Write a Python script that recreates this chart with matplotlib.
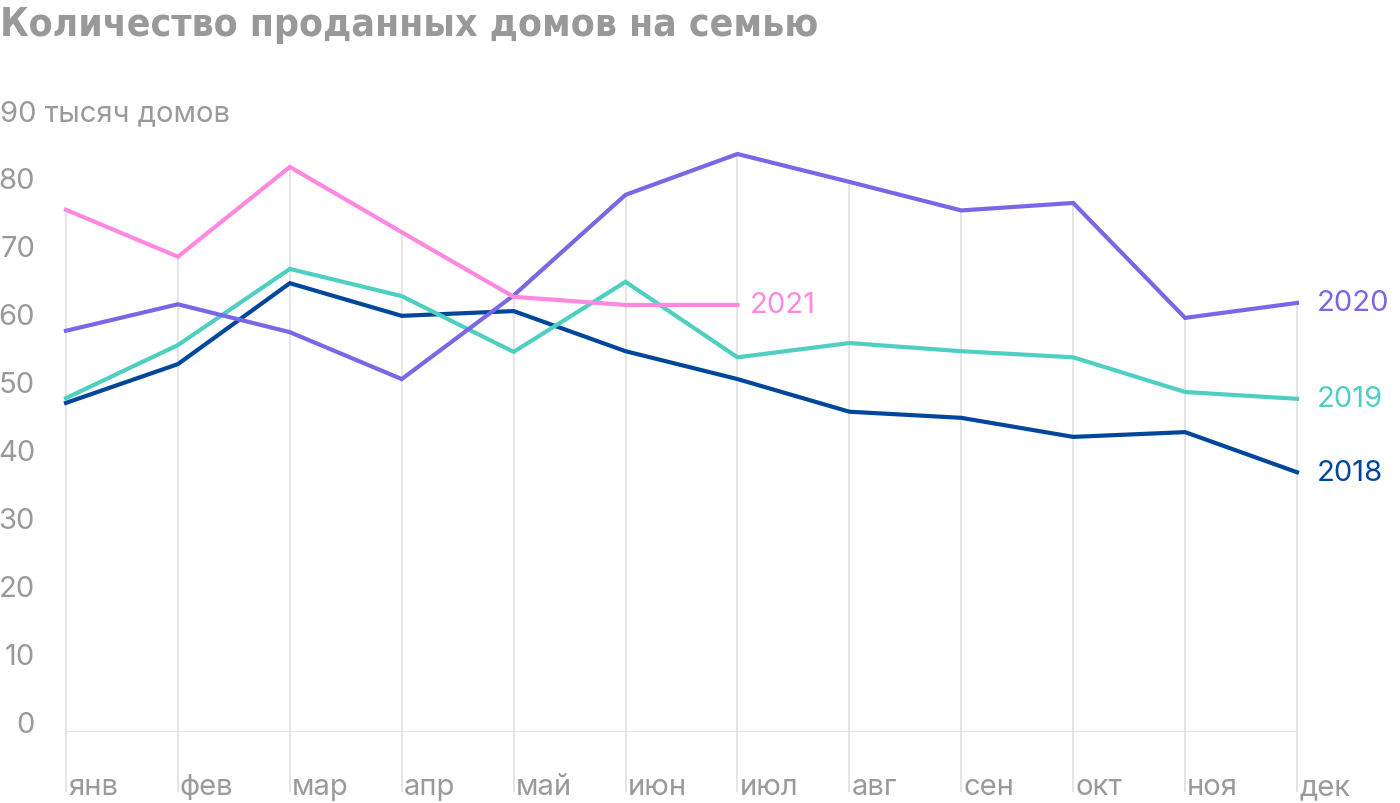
# line chart: houses sold per family by month, 2018-2021

import numpy as np
import matplotlib
matplotlib.use('Agg')
import matplotlib.pyplot as plt

plt.rcParams['font.family'] = ['Inter', 'DejaVu Sans']

months = ['янв', 'фев', 'мар', 'апр', 'май', 'июн', 'июл', 'авг', 'сен', 'окт', 'ноя', 'дек']
y_ticks = [0, 10, 20, 30, 40, 50, 60, 70, 80]

sales_2018 = [48.4, 54.1, 66.0, 61.2, 61.9, 56.0, 51.9, 47.1, 46.2, 43.4, 44.1, 38.2]
sales_2019 = [49.1, 56.9, 68.1, 64.1, 55.9, 66.2, 55.1, 57.2, 56.0, 55.1, 50.0, 49.0]
sales_2020 = [59.0, 62.9, 58.8, 51.9, 64.2, 79.0, 85.0, 80.9, 76.7, 77.8, 60.9, 63.1]
sales_2021 = [76.8, 69.9, 83.1, 73.5, 64.0, 62.8, 62.8]

series = {
    '2018': (sales_2018, '#00479b', 20),
    '2019': (sales_2019, '#4ecfc2', 20),
    '2020': (sales_2020, '#7b66e6', 20),
    '2021': (sales_2021, '#ff88e0', 12),
}

gray = '#9a9a9a'
grid_color = '#e3e3e3'

fig = plt.figure(figsize=(14, 8.04), dpi=100)
ax = fig.add_axes([66 / 1400, 71 / 804, 1231 / 1400, 612 / 804])
ax.set_xlim(0, len(months) - 1)
ax.set_ylim(0, 90)
ax.axis('off')

x = np.arange(len(months))

# vertical grid lines run from the top value of each month down past the axis
tops = []
for i in x:
    vals = [s[0][i] for s in series.values() if i < len(s[0])]
    tops.append(max(vals))
ax.vlines(x, -8.8, tops, color=grid_color, lw=1.3, clip_on=False, zorder=1)
ax.hlines(0, 0, len(months) - 1, color=grid_color, lw=1.3, zorder=1)

for name, (vals, color, off) in series.items():
    xs = x[:len(vals)]
    ax.plot(xs, vals, color=color, lw=3, solid_joinstyle='miter', zorder=3, clip_on=False)
    ax.annotate(name, (xs[-1], vals[-1]), xytext=(off, 0), textcoords='offset pixels',
                color=color, fontsize=21, va='center', ha='left', annotation_clip=False)

# y tick labels sit on their value
for t in y_ticks:
    ax.annotate(str(t), (0, t), xytext=(-31, 0), textcoords='offset pixels',
                ha='right', va='baseline', color=gray, fontsize=21, annotation_clip=False)
ax.annotate('90 тысяч домов', (0, 90), xytext=(-66, 0), textcoords='offset pixels',
            ha='left', va='baseline', color=gray, fontsize=21, annotation_clip=False)

for i, m in enumerate(months):
    ax.annotate(m, (i, 0), xytext=(2, -62), textcoords='offset pixels',
                ha='left', va='baseline', color=gray, fontsize=21, annotation_clip=False)

fig.text(0, 1 - 6 / 804, 'Количество проданных домов на семью', ha='left', va='top',
         color='#999999', fontsize=28, fontweight='bold', fontstretch='condensed',
         family=['DejaVu Sans'])

fig.savefig('out.png', dpi=100)
